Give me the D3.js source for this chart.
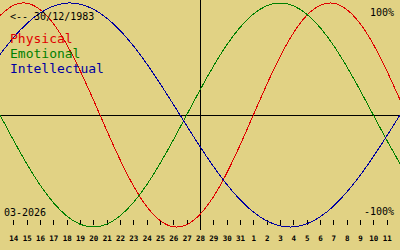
<!DOCTYPE html>
<html>
<head>
<meta charset="utf-8">
<script src="https://cdn.jsdelivr.net/npm/d3@7"></script>
<style>
  body { margin: 0; background: #e1d284; }
  svg { display: block; }
  text { font-family: "DejaVu Sans Mono", monospace; }
</style>
</head>
<body>
<div id="chart"></div>
<script>
// days shown, left edge to right edge (28 = today, in the middle)
var days = [13, 14, 15, 16, 17, 18, 19, 20, 21, 22, 23, 24, 25, 26, 27, 28, 29, 30, 31,
            1, 2, 3, 4, 5, 6, 7, 8, 9, 10, 11, 12]
var offsets = [-15, -14, -13, -12, -11, -10, -9, -8, -7, -6, -5, -4, -3, -2, -1, 0,
               1, 2, 3, 4, 5, 6, 7, 8, 9, 10, 11, 12, 13, 14, 15]

// percent values read per day
var physical = [88.8, 97.9, 99.8, 94.2, 81.7, 63.1, 39.8, 13.6, -13.6, -39.8, -63.1, -81.7, -94.2, -99.8, -97.9,
                -88.8, -73.1, -52.0, -27.0, 0, 27.0, 52.0, 73.1, 88.8, 97.9, 99.8, 94.2, 81.7, 63.1, 39.8, 13.6]
var emotional = [0, -22.3, -43.4, -62.4, -78.2, -90.1, -97.5, -100, -97.5, -90.1, -78.2, -62.4, -43.4, -22.3, 0,
                 22.3, 43.4, 62.4, 78.2, 90.1, 97.5, 100, 97.5, 90.1, 78.2, 62.4, 43.4, 22.3, 0, -22.3, -43.4]
var intellectual = [54.1, 69.0, 81.5, 91.0, 97.2, 99.9, 99.0, 94.5, 86.6, 75.6, 61.8, 45.8, 28.2, 9.5, -9.5,
                    -28.2, -45.8, -61.8, -75.6, -86.6, -94.5, -99.0, -99.9, -97.2, -91.0, -81.5, -69.0, -54.1, -37.2, -18.9, 0]

var seriesNames = ["Physical", "Emotional", "Intellectual"]
var seriesColors = ["#e00000", "#008000", "#0000a0"]
var birthLabel = "<-- 30/12/1983"
var monthLabel = "03-2026"

var width = 400, height = 250

var svg = d3.select("#chart")
    .append("svg")
    .attr("width", width)
    .attr("height", height)

var x = d3.scaleLinear().domain([-15, 15]).range([0, width])
var y = d3.scaleLinear().domain([-100, 100]).range([227, 3])

// zero line and today line
svg.append("line")
    .attr("x1", 0).attr("x2", width)
    .attr("y1", y(0) + 0.5).attr("y2", y(0) + 0.5)
    .attr("stroke", "black")
    .attr("shape-rendering", "crispEdges")

svg.append("line")
    .attr("x1", x(0) + 0.5).attr("x2", x(0) + 0.5)
    .attr("y1", 0).attr("y2", 230)
    .attr("stroke", "black")
    .attr("shape-rendering", "crispEdges")

// bottom day axis
var axis = svg.append("g")
    .attr("transform", "translate(0,225)")
    .call(d3.axisBottom(x)
        .tickValues(offsets.slice(1, -1))
        .tickSize(5)
        .tickPadding(6)
        .tickFormat(function(d) { return days[offsets.indexOf(d)] }))
axis.select(".domain").remove()
axis.selectAll(".tick line")
    .attr("shape-rendering", "crispEdges")
    .attr("transform", "translate(0,-5)")
axis.selectAll(".tick text")
    .attr("font-family", "DejaVu Sans Mono")
    .attr("font-size", 7.5)
    .attr("font-weight", "bold")
    .attr("fill", "black")

// curves
var all = [physical, emotional, intellectual]
var line = d3.line()
    .x(function(d, i) { return x(offsets[i]) })
    .y(function(d) { return y(d) })
    .curve(d3.curveNatural)

all.forEach(function(values, i) {
    svg.append("path")
        .datum(values)
        .attr("d", line)
        .attr("fill", "none")
        .attr("stroke", seriesColors[i])
        .attr("stroke-width", 1)
        .attr("shape-rendering", "crispEdges")
})

// texts
svg.append("text")
    .attr("x", 10).attr("y", 20)
    .attr("font-size", 10)
    .text(birthLabel)

seriesNames.forEach(function(name, i) {
    svg.append("text")
        .attr("x", 10).attr("y", 43 + i * 15)
        .attr("font-size", 13)
        .attr("fill", seriesColors[i])
        .text(name)
})

svg.append("text")
    .attr("x", 394).attr("y", 16)
    .attr("text-anchor", "end")
    .attr("font-size", 10)
    .text("100%")

svg.append("text")
    .attr("x", 394).attr("y", 215)
    .attr("text-anchor", "end")
    .attr("font-size", 10)
    .text("-100%")

svg.append("text")
    .attr("x", 4).attr("y", 216)
    .attr("font-size", 10)
    .text(monthLabel)
</script>
</body>
</html>
